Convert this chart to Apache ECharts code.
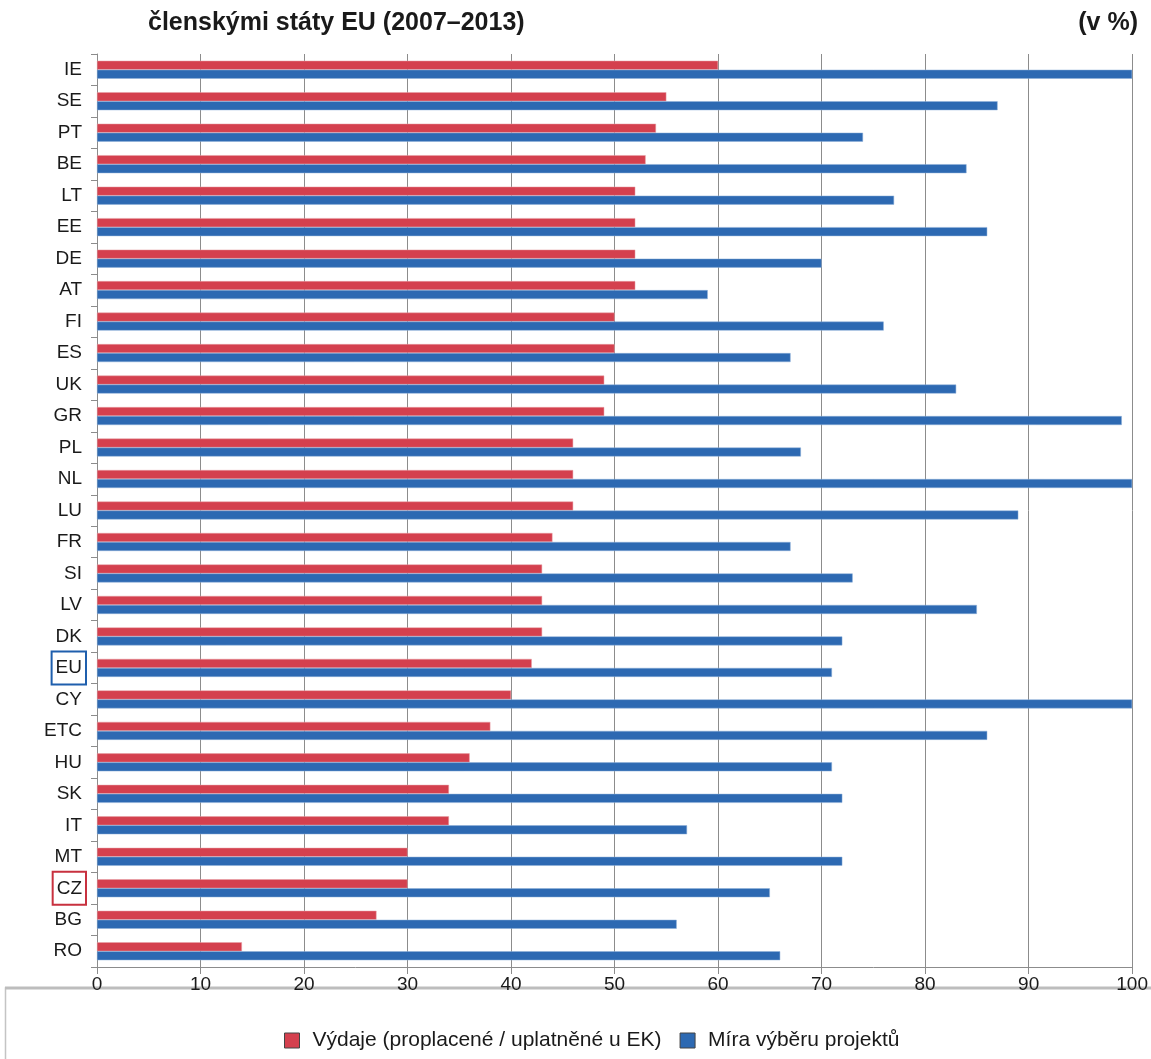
<!DOCTYPE html>
<html><head><meta charset="utf-8">
<script src="https://cdn.jsdelivr.net/npm/echarts@6/dist/echarts.min.js"></script>
<style>html,body{margin:0;padding:0;background:#fff}#c{width:1151px;height:1059px}</style>
</head><body><div id="c"></div>
<script>
const categories = ['IE','SE','PT','BE','LT','EE','DE','AT','FI','ES','UK','GR','PL','NL','LU','FR','SI','LV','DK','EU','CY','ETC','HU','SK','IT','MT','CZ','BG','RO'];
const vydaje = [60,55,54,53,52,52,52,52,50,50,49,49,46,46,46,44,43,43,43,42,40,38,36,34,34,30,30,27,14];
const miraVyberu = [100,87,74,84,77,86,70,59,76,67,83,99,68,100,89,67,73,85,72,71,100,86,71,72,57,72,65,56,66];
const xTicks = [0,10,20,30,40,50,60,70,80,90,100];
const seriesNames = ['Výdaje (proplacené / uplatněné u EK)','Míra výběru projektů'];

const chart = echarts.init(document.getElementById('c'), null, {renderer:'canvas'});
const F = '"Liberation Sans", Arial, sans-serif';
const lblBase = {fontSize:19,color:'#1a1a1a',fontFamily:F,padding:[2,4,2,4],borderWidth:2,borderColor:'transparent'};
chart.setOption({
  animation:false,
  textStyle:{fontFamily:F},
  title:[
    {text:'členskými státy EU (2007–2013)', left:148, top:11, padding:0, textStyle:{fontSize:25,fontWeight:'bold',color:'#1a1a1a',fontFamily:F}},
    {text:'(v %)', right:13, top:11, padding:0, textStyle:{fontSize:25,fontWeight:'bold',color:'#1a1a1a',fontFamily:F}}
  ],
  grid:{left:97,right:18,top:54,bottom:92,containLabel:false},
  legend:{top:1030,left:284,itemWidth:15,itemHeight:15,itemGap:18,icon:'rect',padding:0,
    textStyle:{fontSize:21,color:'#1a1a1a',fontFamily:F,padding:[0,0,0,8]},
    data:seriesNames.map(n=>({name:n,itemStyle:{borderColor:'#444',borderWidth:1}}))},
  xAxis:{type:'value',min:0,max:100,interval:10,
    axisLine:{show:true,lineStyle:{color:'#8c8c8c',width:1}},
    axisTick:{show:true,length:7,lineStyle:{color:'#8c8c8c'}},
    axisLabel:{fontSize:19,color:'#1a1a1a',margin:8,fontFamily:F,showMinLabel:true,showMaxLabel:true,
      formatter:v=>xTicks.includes(v)?String(v):''},
    splitLine:{show:true,lineStyle:{color:'#8c8c8c',width:1}}},
  yAxis:{type:'category',data:categories,inverse:true,
    axisLine:{show:true,lineStyle:{color:'#8c8c8c',width:1}},
    axisTick:{show:true,length:6,alignWithLabel:false,interval:0,lineStyle:{color:'#8c8c8c'}},
    axisLabel:{margin:11,interval:0,showMinLabel:true,showMaxLabel:true,hideOverlap:false,
      fontSize:19,color:'#1a1a1a',fontFamily:F,
      formatter:v=> v==='EU' ? '{eu|EU}' : (v==='CZ' ? '{cz|CZ}' : '{n|'+v+'}'),
      rich:{
        n:Object.assign({},lblBase),
        eu:Object.assign({},lblBase,{borderColor:'#1f5fad',padding:[7,4,7,4]}),
        cz:Object.assign({},lblBase,{borderColor:'#c8313f',padding:[7,4,7,4]})
      }}},
  series:[
    {name:seriesNames[0],type:'bar',data:vydaje,barWidth:9,barGap:'0%',
      itemStyle:{color:'#d4404e',borderColor:'#e6a0a6',borderWidth:0.5}},
    {name:seriesNames[1],type:'bar',data:miraVyberu,barWidth:9,barGap:'0%',
      itemStyle:{color:'#2d69b2',borderColor:'#8fb0d8',borderWidth:0.5}}
  ],
  graphic:[
    {type:'rect',shape:{x:5.5,y:988,width:1160,height:100},style:{fill:'none',stroke:'#c4c4c4',lineWidth:1.5},z:-1},
    {type:'line',shape:{x1:5,y1:988,x2:1151,y2:988},style:{stroke:'#bdbdbd',lineWidth:3},z:-1}
  ]
});
</script></body></html>
